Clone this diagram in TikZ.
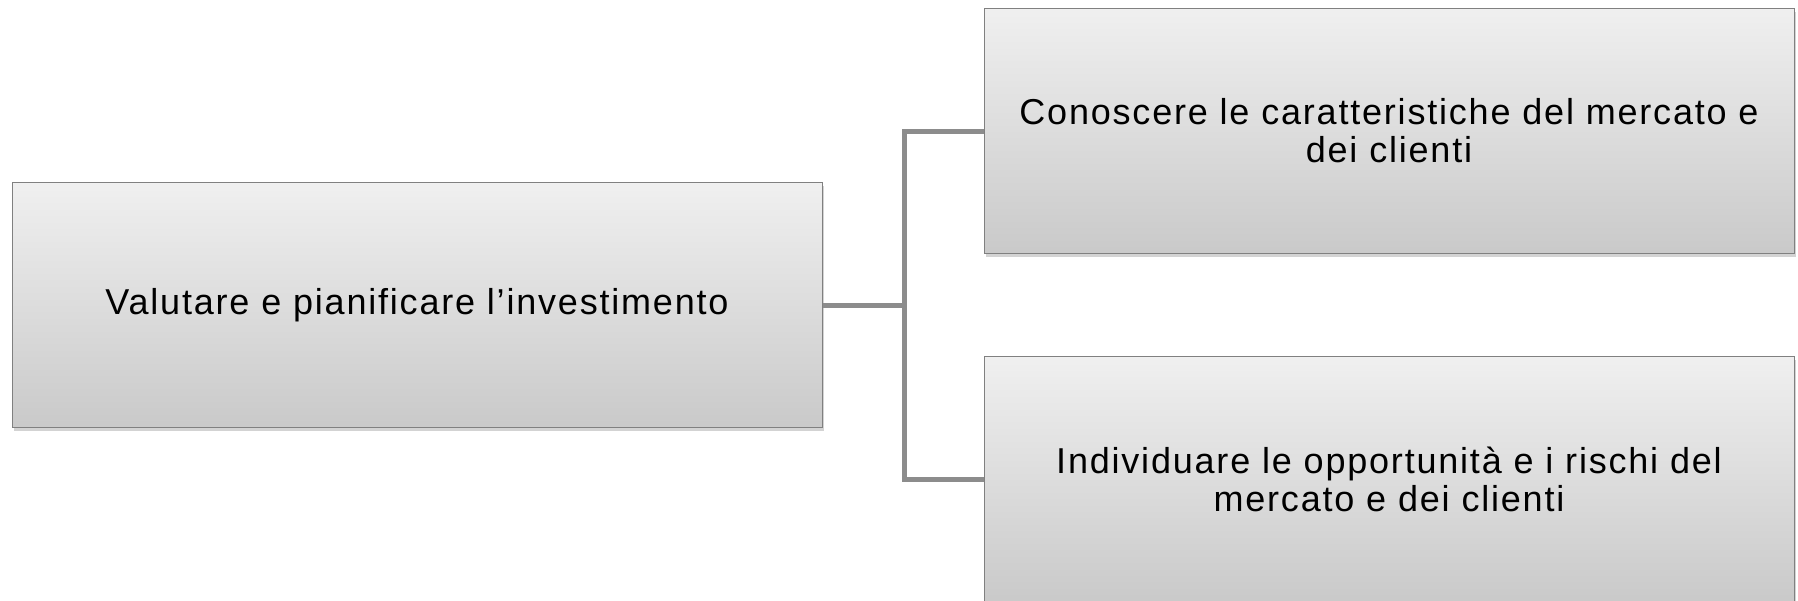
\documentclass[tikz,border=0pt]{standalone}
\usepackage{fontspec}
\setmainfont{Liberation Sans}[LetterSpace=5]
\usepackage{tikz}
\usetikzlibrary{shadows}
\usetikzlibrary{calc}

\begin{document}
\begin{tikzpicture}[
                x = 0.5pt, y = -0.5pt, % pixel grid
                semithick, % line style
                font = \fontsize{18pt}{19pt}\selectfont
        ]

        \tikzstyle{box}=[
            draw = black!50,
            line width = 0.5pt,
            top color = black!6,
            bottom color = black!21,
            drop shadow = {shadow xshift=1.2pt, shadow yshift=-1.5pt, opacity=0.35},
            minimum width = 405pt,
            minimum height = 122.5pt,
            align = center
        ]
        \tikzstyle{link}=[
            draw = black!45,
            line width = 2.5pt
        ]

        \useasboundingbox (0,0) rectangle (1798,600);

        \node[box] (V1) at (417,305) {Valutare e pianificare l’investimento};
        \node[box] (C1) at (1389,131) {Conoscere le caratteristiche del mercato e\\dei clienti};
        \node[box] (I1) at (1389,479) {Individuare le opportunità e i rischi del\\mercato e dei clienti};

        \draw[link] (V1.east) -- ++(82,0) coordinate (F1) |- (C1.west);
        \draw[link] (F1) |- (I1.west);

        \end{tikzpicture}
\end{document}
